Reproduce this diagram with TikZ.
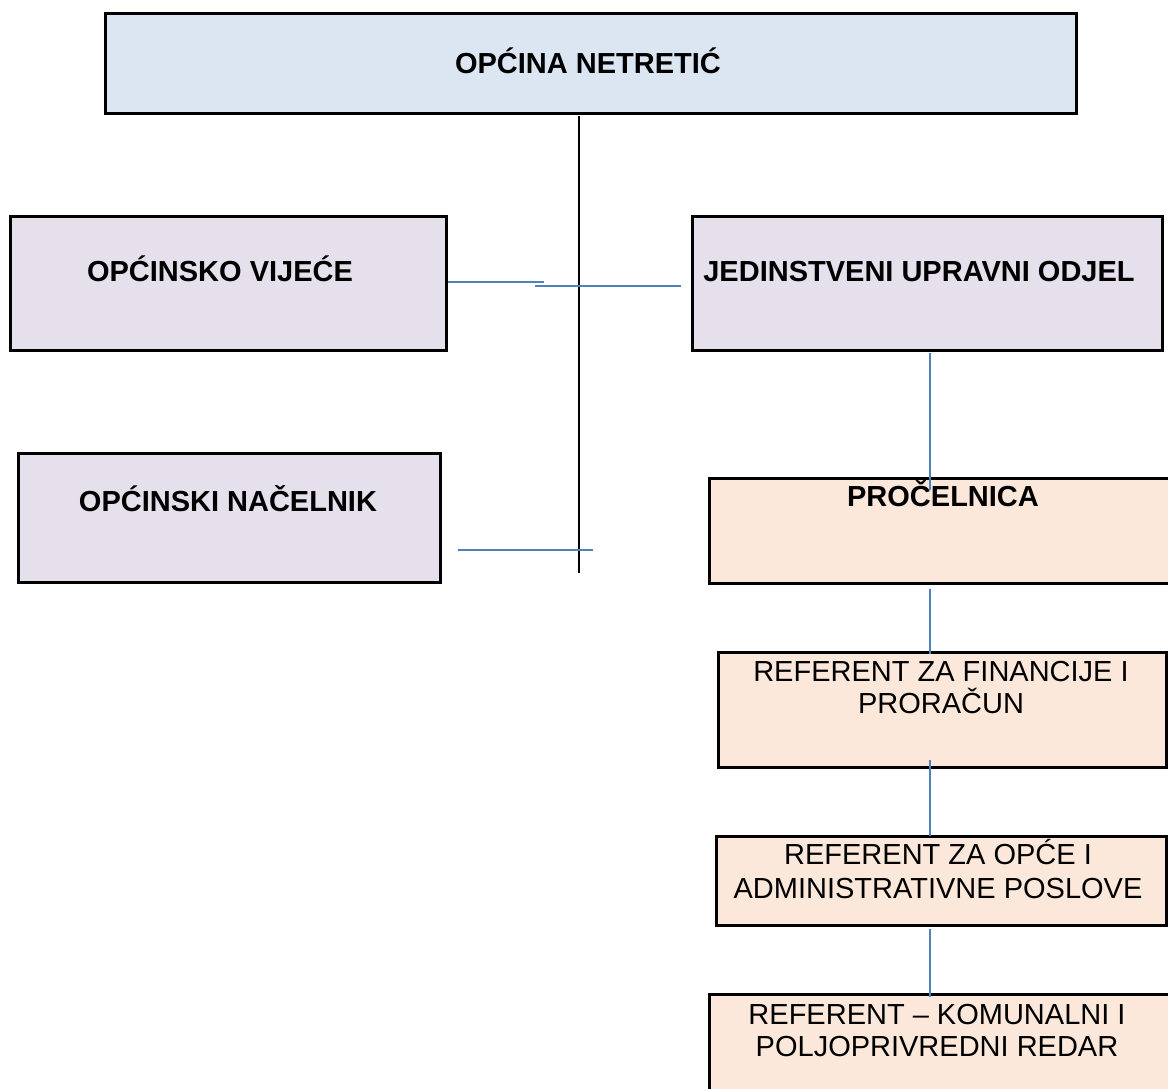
\documentclass[tikz,border=0pt]{standalone}
\usepackage{fontspec}
\setmainfont{Liberation Sans}
\usetikzlibrary{calc}
\definecolor{topblue}{HTML}{DCE6F2}
\definecolor{lav}{HTML}{E5E0EC}
\definecolor{peach}{HTML}{FCE8DA}
\definecolor{conn}{HTML}{4F81BD}
\begin{document}
\begin{tikzpicture}[x=1pt,y=-1pt,
  box/.style={draw=black,line width=3pt,rectangle,anchor=north west,inner sep=0pt},
  lbl/.style={anchor=base,inner sep=0pt,font=\fontsize{29}{33}\selectfont},
  blbl/.style={lbl,font=\fontsize{29}{33}\selectfont\bfseries},
  bline/.style={draw=black,line width=2pt},
  cline/.style={draw=conn,line width=2pt}]
\clip (0,0) rectangle (1168,1088);
\fill[white] (0,0) rectangle (1168,1088);
% boxes
\node[box,fill=topblue,minimum width=971pt,minimum height=100pt] (top) at (104,12) {};
\node[box,fill=lav,minimum width=436pt,minimum height=134pt] (ov) at (9,215) {};
\node[box,fill=lav,minimum width=470pt,minimum height=134pt] (juo) at (691,215) {};
\node[box,fill=lav,minimum width=422pt,minimum height=129pt] (on) at (17,452) {};
\node[box,fill=peach,minimum width=470pt,minimum height=105pt] (pro) at (708,477) {};
\node[box,fill=peach,minimum width=448pt,minimum height=115pt] (rf) at (717,651) {};
\node[box,fill=peach,minimum width=450pt,minimum height=89pt] (ro) at (715,835) {};
\node[box,fill=peach,minimum width=470pt,minimum height=110pt] (rk) at (708,993) {};
% texts
\node[blbl] (ttop) at (588,73) {OPĆINA NETRETIĆ};
\node[blbl] (tov) at (220,281) {OPĆINSKO VIJEĆE};
\node[blbl] (tjuo) at (919,281) {JEDINSTVENI UPRAVNI ODJEL};
\node[blbl] (ton) at (228,511) {OPĆINSKI NAČELNIK};
\node[blbl] (tpro) at (943,506) {PROČELNICA};
\node[lbl] (trf1) at (941,681) {REFERENT ZA FINANCIJE I};
\node[lbl] (trf2) at (941,713) {PRORAČUN};
\node[lbl] (tro1) at (938,864) {REFERENT ZA OPĆE I};
\node[lbl] (tro2) at (938,898) {ADMINISTRATIVNE POSLOVE};
\node[lbl] (trk1) at (937,1024) {REFERENT – KOMUNALNI I};
\node[lbl] (trk2) at (937,1056) {POLJOPRIVREDNI REDAR};
% connectors
\coordinate (vtop) at ($(top.south west)+(475,1)$);
\coordinate (vbot) at (579,573);
\draw[bline] (vtop) -- (vbot);
\coordinate (ova) at (544,282);
\draw[cline] (ov.east |- ova) -- (ova);
\coordinate (juoa) at (535,286);
\draw[cline] (juoa) -- (681,286);
\coordinate (ona) at (458,550);
\draw[cline] (ona) -- (593,550);
\draw[cline] (930,353) -- (930,490);
\draw[cline] (930,589) -- (930,654);
\draw[cline] (930,760) -- (930,836);
\draw[cline] (930,929) -- (930,997);
\end{tikzpicture}
\end{document}
